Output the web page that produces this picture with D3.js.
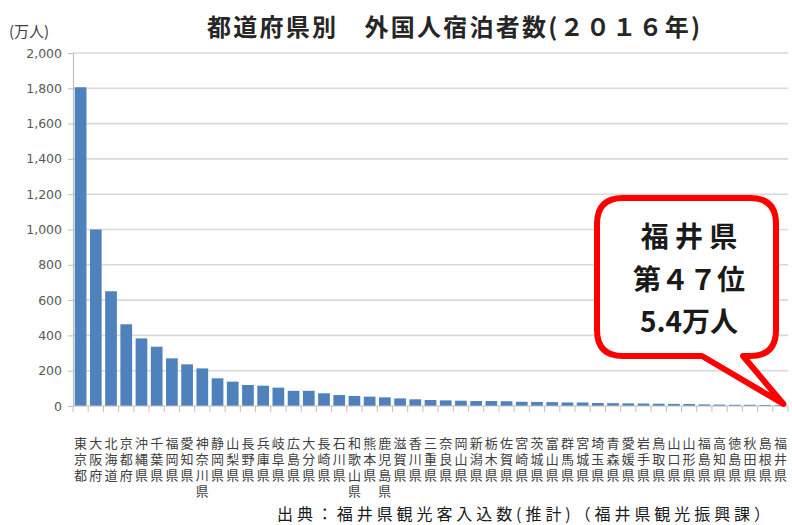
<!DOCTYPE html>
<html><head><meta charset="utf-8">
<script src="https://cdn.jsdelivr.net/npm/d3@7"></script>
<style>
html,body{margin:0;padding:0;background:#fff;}
svg{display:block;}
</style></head>
<body>
<svg id="chart" width="792" height="525"></svg>
<script>
const categories = ["東京都","大阪府","北海道","京都府","沖縄県","千葉県","福岡県","愛知県","神奈川県","静岡県",
  "山梨県","長野県","兵庫県","岐阜県","広島県","大分県","長崎県","石川県","和歌山県","熊本県",
  "鹿児島県","滋賀県","香川県","三重県","奈良県","岡山県","新潟県","栃木県","佐賀県","宮崎県",
  "茨城県","富山県","群馬県","宮城県","埼玉県","青森県","愛媛県","岩手県","鳥取県","山口県",
  "山形県","福島県","高知県","徳島県","秋田県","島根県","福井県"];
const values = [1806,1000,650,463,383,336,270,236,213,157,
  138,119,115,104,86,86,72,62,57,53,
  49,43,38,34,32,30,28,28,27,24,
  23,22,20,20,17,16,15,14,13,12,
  11,9,8,7,7,6,5.4];
const yTicks = [0,200,400,600,800,1000,1200,1400,1600,1800,2000];
const title = "都道府県別　外国人宿泊者数(２０１６年)";
const unitLabel = "(万人)";
const source = "出典：福井県観光客入込数(推計)（福井県観光振興課）";
const callout = ["福 井 県","第４７位","5.4万人"];

const svg = d3.select("#chart");
const jp = "'Noto Sans CJK JP','Noto Sans',sans-serif";

const x = d3.scaleBand().domain(categories).range([73, 788]).paddingInner(0.23).paddingOuter(0.115);
const y = d3.scaleLinear().domain([0, 2000]).range([406, 53]);

// gridlines
svg.append("g").selectAll("line").data(yTicks.filter(d => d > 0)).join("line")
  .attr("x1", 73).attr("x2", 788)
  .attr("y1", d => y(d)).attr("y2", d => y(d))
  .attr("stroke", "#d9d9d9").attr("stroke-width", 1.6);

// y axis
const yAxis = d3.axisLeft(y).tickValues(yTicks).tickSize(5).tickPadding(6)
  .tickFormat(d3.format(","));
const gy = svg.append("g").attr("transform", "translate(73,0)").call(yAxis);
gy.select(".domain").attr("stroke", "#bfbfbf").attr("stroke-width", 1.2);
gy.selectAll(".tick line").attr("stroke", "#bfbfbf");
gy.selectAll(".tick text").attr("fill", "#595959")
  .style("font-family", "'DejaVu Sans',sans-serif").style("font-size", "12.5px");

// bars
svg.append("g").selectAll("rect").data(values).join("rect")
  .attr("x", (d, i) => x(categories[i]))
  .attr("width", x.bandwidth())
  .attr("y", d => y(d))
  .attr("height", d => y(0) - y(d))
  .attr("fill", "#4f81bd");

// x axis line and ticks
svg.append("line").attr("x1", 73).attr("x2", 788).attr("y1", y(0)).attr("y2", y(0))
  .attr("stroke", "#bfbfbf").attr("stroke-width", 1.2);
svg.append("g").selectAll("line").data(d3.range(categories.length + 1)).join("line")
  .attr("x1", k => 73 + k * x.step()).attr("x2", k => 73 + k * x.step())
  .attr("y1", y(0)).attr("y2", y(0) + 6)
  .attr("stroke", "#bfbfbf");

// category labels (vertical, stacked characters)
svg.append("g").selectAll("text").data(categories).join("text")
  .attr("x", c => x(c) + x.bandwidth() / 2)
  .attr("y", 437)
  .style("writing-mode", "vertical-rl")
  .style("text-orientation", "upright")
  .style("letter-spacing", "3px")
  .style("font-family", jp).style("font-size", "13px")
  .attr("fill", "#404040")
  .text(c => c);

// title
svg.append("text").attr("x", 207).attr("y", 36)
  .attr("textLength", 493).attr("lengthAdjust", "spacing")
  .style("font-family", jp).style("font-size", "24px").style("font-weight", "700")
  .attr("fill", "#262626").text(title);

// unit label
svg.append("text").attr("x", 9).attr("y", 37)
  .style("font-family", jp).style("font-size", "15px").attr("fill", "#404040").text(unitLabel);

// source
svg.append("text").attr("x", 277).attr("y", 520)
  .attr("textLength", 493).attr("lengthAdjust", "spacing")
  .style("font-family", jp).style("font-size", "16px").attr("fill", "#1a1a1a").text(source);

// callout bubble
const L = 597, R = 776, T = 198, B = 356, r = 26;
const tip = [x("福井県") + x.bandwidth() / 2 + 3, y(0) - 2];
const path = `M${L + r},${T} H${R - r} Q${R},${T} ${R},${T + r} V${B - r} Q${R},${B} ${R - r},${B}
  H743 L${tip[0]},${tip[1]} L702,${B} H${L + r} Q${L},${B} ${L},${B - r} V${T + r} Q${L},${T} ${L + r},${T} Z`;
svg.append("path").attr("d", path).attr("fill", "#fff").attr("stroke", "#ff0000")
  .attr("stroke-width", 6).attr("stroke-linejoin", "round");
const cy = [237, 280, 322];
callout.forEach((t, i) => {
  svg.append("text").attr("x", 689).attr("y", cy[i]).attr("dy", "0.36em")
    .attr("text-anchor", "middle")
    .style("font-family", jp).style("font-size", "28px").style("font-weight", "700")
    .attr("fill", "#1a1a1a").text(t);
});
</script>
</body></html>
